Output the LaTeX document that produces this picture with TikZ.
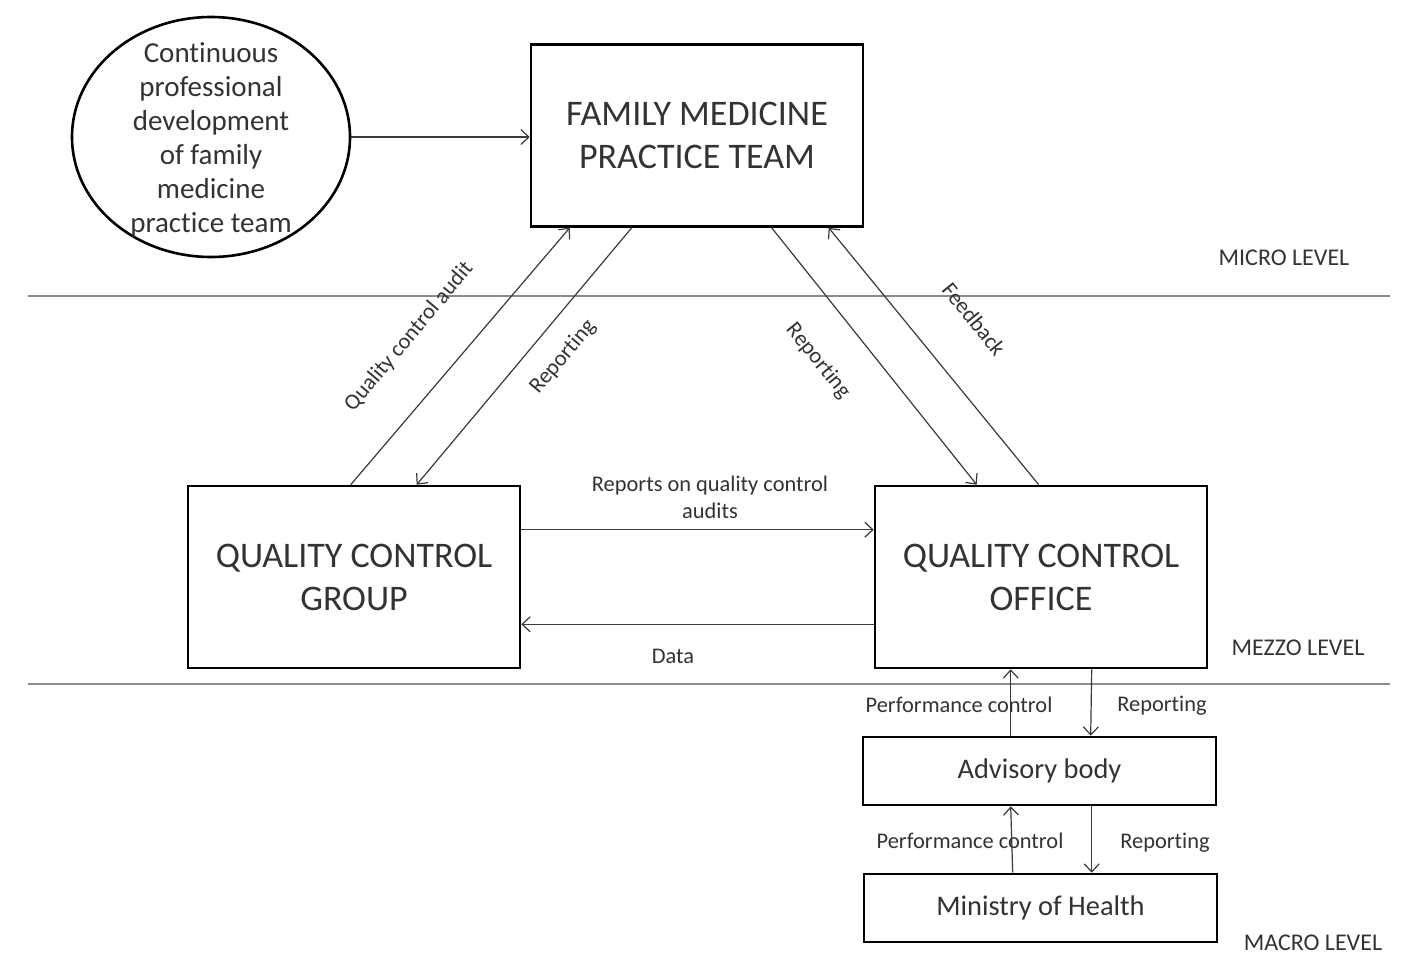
\documentclass[tikz,border=0pt]{standalone}
\usepackage{fontspec}
\setmainfont{Carlito}[Ligatures=NoCommon]
\usetikzlibrary{arrows.meta,shapes.geometric}
\definecolor{txt}{HTML}{333333}
\definecolor{ln}{HTML}{3A3A3A}
\definecolor{sep}{HTML}{8A8A8A}
\begin{document}
\begin{tikzpicture}[x=1pt,y=-1pt,
  bigbox/.style={draw=black,line width=2.6pt,minimum width=332pt,minimum height=182pt,inner sep=0pt,align=center,text=txt,font=\fontsize{36}{43}\selectfont},
  smallbox/.style={draw=black,line width=2.6pt,minimum width=353pt,minimum height=68pt,inner sep=0pt,align=center,text=txt,font=\fontsize{28.4}{32}\selectfont},
  arr/.style={draw=ln,line width=1.2pt,-{Straight Barb[length=8pt,width=15pt]}},
  lbl/.style={text=txt,font=\fontsize{22.4}{27}\selectfont,inner sep=0pt,align=center},
  lvl/.style={text=txt,font=\fontsize{24}{28}\selectfont,inner sep=0pt},
  sepline/.style={draw=sep,line width=1.6pt}]
\useasboundingbox (0,0) rectangle (1413,972);
\fill[white] (0,0) rectangle (1413,972);
% separator lines
\coordinate (s1a) at (28,296); \coordinate (s1b) at (1390,296);
\coordinate (s2a) at (28,684); \coordinate (s2b) at (1390,684);
\draw[sepline] (s1a) -- (s1b);
\draw[sepline] (s2a) -- (s2b);
% nodes
\node[ellipse,draw=black,line width=2.6pt,minimum width=278pt,minimum height=240pt,inner sep=0pt] (cpd) at (211,137) {};
\node[align=center,text=txt,inner sep=0pt,font=\fontsize{29}{34}\selectfont] (cpdt) at (211,140) {Continuous\\professional\\development\\of family\\medicine\\practice team};
\node[bigbox] (fmpt) at (697,135.5) {FAMILY MEDICINE\\PRACTICE TEAM};
\node[bigbox] (qcg) at (354,577) {QUALITY CONTROL\\GROUP};
\node[bigbox] (qco) at (1041,577) {QUALITY CONTROL\\OFFICE};
\node[smallbox] (adv) at (1039.5,771) {Advisory body};
\node[smallbox] (moh) at (1040.5,908) {Ministry of Health};
% connectors
\draw[arr] (cpd.east) -- (fmpt.west |- cpd.east);
\draw[arr] ([xshift=164pt]qcg.north west) -- ([xshift=40pt]fmpt.south west);
\draw[arr] ([xshift=102pt]fmpt.south west) -- ([xshift=230pt]qcg.north west);
\draw[arr] ([xshift=242pt]fmpt.south west) -- ([xshift=103pt]qco.north west);
\draw[arr] ([xshift=165pt]qco.north west) -- ([xshift=299pt]fmpt.south west);
\draw[arr] ([yshift=-45pt]qcg.north east) -- ([yshift=-45pt]qco.north west);
\draw[arr] ([yshift=45pt]qco.south west) -- ([yshift=45pt]qcg.south east);
\draw[arr] ([xshift=149pt]adv.north west) -- ([xshift=137pt]qco.south west);
\draw[arr] ([xshift=218pt]qco.south west) -- ([xshift=229pt]adv.north west);
\draw[arr] ([xshift=150pt]moh.north west) -- ([xshift=149pt]adv.south west);
\draw[arr] ([xshift=230pt]adv.south west) -- ([xshift=229pt]moh.north west);
% labels
\node[lbl,rotate=50] (l1) at (409,337) {Quality control audit};
\node[lbl,rotate=50] (l2) at (563,357) {Reporting};
\node[lbl,rotate=-51] (l3) at (818,361) {Reporting};
\node[lbl,rotate=-51] (l4) at (974,319) {Feedback};
\node[lbl] (l5) at (710,497) {Reports on quality control\\audits};
\node[lbl] (l6) at (673,656) {Data};
\node[lbl] (l7) at (959,705) {Performance control};
\node[lbl] (l8) at (1162,706) {Reporting};
\node[lbl] (l9) at (970,841) {Performance control};
\node[lbl] (l10) at (1165,843) {Reporting};
\node[lvl] (mic) at (1284,258) {MICRO LEVEL};
\node[lvl] (mez) at (1298,648) {MEZZO LEVEL};
\node[lvl] (mac) at (1313,943) {MACRO LEVEL};
\end{tikzpicture}
\end{document}
